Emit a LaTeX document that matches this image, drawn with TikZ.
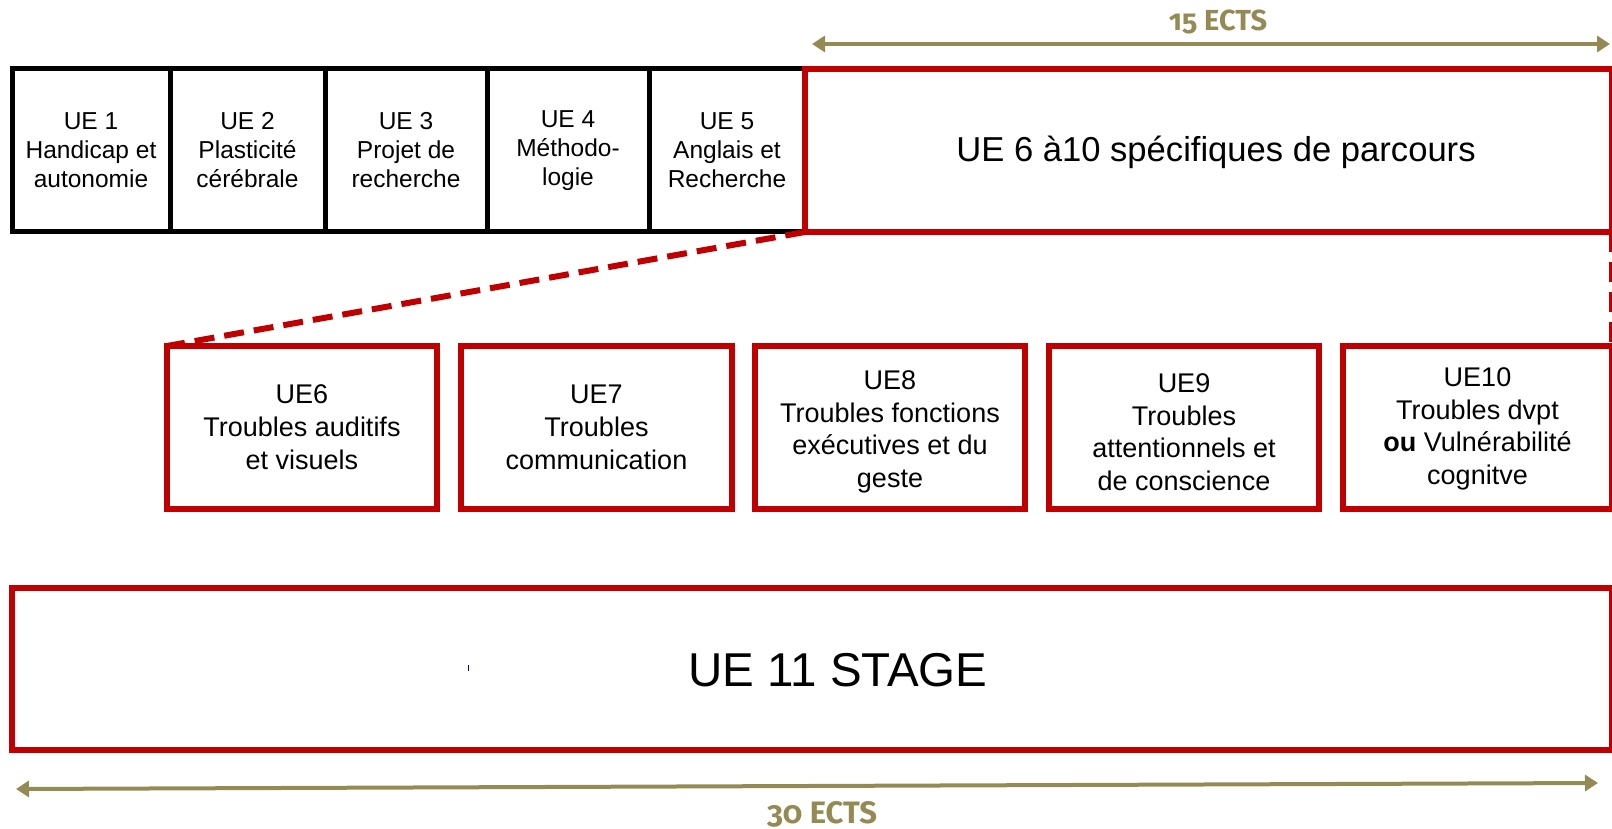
\documentclass[tikz,border=0pt]{standalone}
\usepackage{fontspec}
\setmainfont{Liberation Sans}
\newfontfamily\ectsfont[Numbers=OldStyle]{Fira Sans}
\usetikzlibrary{arrows.meta}
\definecolor{uered}{HTML}{C00000}
\definecolor{ectsolive}{HTML}{948A54}
\begin{document}
\begin{tikzpicture}[x=1pt,y=-1pt,
  cell/.style={draw=black, line width=5pt, minimum width=#1, minimum height=163pt,
    inner sep=0pt, outer sep=0pt, align=center, font=\fontsize{24.5}{29}\selectfont},
  bigred/.style={draw=uered, line width=6pt, minimum width=#1, minimum height=163pt,
    inner sep=0pt, outer sep=0pt},
  subbox/.style={draw=uered, line width=6pt, minimum width=#1, minimum height=163pt,
    inner sep=0pt, outer sep=0pt, align=center, font=\fontsize{27}{33}\selectfont},
  subtext/.style={inner sep=0pt, align=center, font=\fontsize{27}{32.5}\selectfont},
  bigtext/.style={inner sep=0pt},
  zoomline/.style={draw=uered, line width=6pt, dash pattern=on 20pt off 10pt},
  ectsarrow/.style={draw=ectsolive, line width=4pt,
    {Triangle[length=13pt,width=16pt]}-{Triangle[length=13pt,width=16pt]}},
  ects/.style={text=ectsolive, inner sep=0pt, font=\ectsfont\bfseries\fontsize{#1}{30}\selectfont}
]
\useasboundingbox (0,0) rectangle (1612,829);

% top row
\node[cell=158pt] (ue1) at (91,150.5) {UE 1\\Handicap et\\autonomie};
\node[cell=155pt] (ue2) at (247.5,150.5) {UE 2\\Plasticité\\cérébrale};
\node[cell=162pt] (ue3) at (406,150.5) {UE 3\\Projet de\\recherche};
\node[cell=162pt] (ue4) at (568,150.5) {UE 4\\Méthodo-\\logie};
\node[cell=156pt] (ue5) at (727,150.5) {UE 5\\Anglais et\\Recherche};
\node[bigred=807pt] (spec) at (1208.5,150.5) {};
\node[bigtext, font=\fontsize{34.6}{40}\selectfont] (spect) at (1216,152) {UE 6 à10 spécifiques de parcours};

% second row
\node[subbox=270pt] (ue6) at (302,427.5) {UE6\\Troubles auditifs\\et visuels};
\node[subbox=271pt] (ue7) at (596.5,427.5) {UE7\\Troubles\\communication};
\node[subbox=270pt] (ue8) at (890,427.5) {};
\node[subtext] (ue8t) at (890,432) {UE8\\Troubles fonctions\\exécutives et du\\geste};
\node[subbox=270pt] (ue9) at (1184,427.5) {};
\node[subtext] (ue9t) at (1184,432) {UE9\\Troubles\\attentionnels et\\de conscience};
\node[subbox=269pt] (ue10) at (1477.5,427.5) {};
\node[subtext] (ue10t) at (1477.5,429) {UE10\\Troubles dvpt\\\textbf{ou} Vulnérabilité\\cognitve};

% zoom lines
\draw[zoomline] (spec.south west) -- (ue6.north west);
\draw[zoomline] (spec.south east) -- (ue10.north east);

% stage
\node[bigred=1600pt, minimum height=162pt] (stage) at (812,669) {};
\node[bigtext, font=\fontsize{47.5}{52}\selectfont] (staget) at (838,670) {UE 11 STAGE};
\draw[blue!70!black, line width=1pt] (468,665) -- (468,671);

% ECTS arrows
\coordinate (a15l) at (812,44);
\coordinate (a15r) at (1610,44);
\draw[ectsarrow] (a15l) -- (a15r);
\node[ects=29] (e15) at (1218,22) {15 ECTS};

\coordinate (a30l) at (16,789);
\coordinate (a30r) at (1598,783);
\draw[ectsarrow] (a30l) -- (a30r);
\node[ects=31] (e30) at (822,814) {30 ECTS};
\end{tikzpicture}
\end{document}
